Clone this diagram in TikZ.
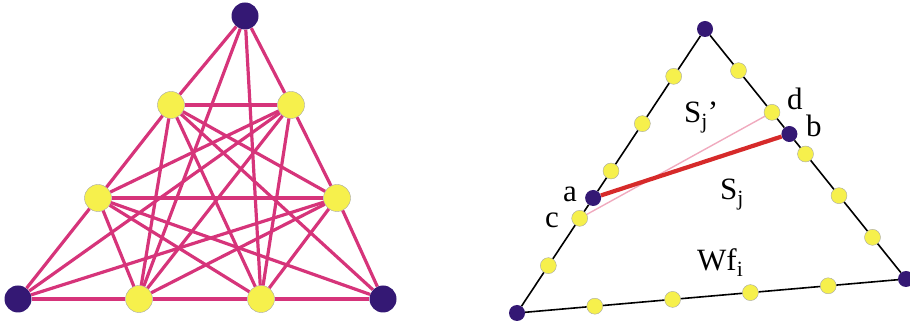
\documentclass[tikz,border=0pt]{standalone}
\usepackage{fontspec}
\setmainfont{Liberation Serif}
\usetikzlibrary{calc}
\definecolor{rosa}{RGB}{214,52,122}
\definecolor{azul}{RGB}{52,24,116}
\definecolor{amarillo}{RGB}{246,240,76}
\definecolor{rojo}{RGB}{214,42,42}
\definecolor{rosaclaro}{RGB}{240,170,190}

\begin{document}
\begin{tikzpicture}[x=1pt, y=1pt,
      vert/.style={circle, fill=azul, inner sep=0pt, minimum size=27},
      vertAm/.style={circle, fill=amarillo, draw=black!35, thin, inner sep=0pt, minimum size=27},
      arista/.style={draw=rosa, line width=3.2pt},
      punto/.style={circle, fill=azul, inner sep=0pt, minimum size=16},
      puntoAm/.style={circle, fill=amarillo, draw=black!35, thin, inner sep=0pt, minimum size=16},
      lado/.style={draw=black, line width=1.6pt},
      etiqueta/.style={font=\fontsize{31}{36}\selectfont, anchor=base west, inner sep=0pt}
    ]
    \useasboundingbox (0,0) rectangle (910,326);

    % --- (a) grafo ---
    \begin{scope}
      \node[vert] (T) at (245,310) {};
      \node[vertAm] (UL) at (171,221) {};
      \node[vertAm] (UR) at (291,221) {};
      \node[vertAm] (ML) at (98,128) {};
      \node[vertAm] (MR) at (337,128) {};
      \node[vert] (BL) at (18,27) {};
      \node[vertAm] (B1) at (139,27) {};
      \node[vertAm] (B2) at (261,27) {};
      \node[vert] (BR) at (383,27) {};
      % lados
      \draw[arista] (T) -- (UL); \draw[arista] (UL) -- (ML); \draw[arista] (ML) -- (BL);
      \draw[arista] (T) -- (UR); \draw[arista] (UR) -- (MR); \draw[arista] (MR) -- (BR);
      \draw[arista] (BL) -- (B1); \draw[arista] (B1) -- (B2); \draw[arista] (B2) -- (BR);
      % diagonales
      \draw[arista] (T) -- (B1); \draw[arista] (T) -- (B2);
      \draw[arista] (UL) -- (UR); \draw[arista] (UL) -- (MR); \draw[arista] (UL) -- (BR);
      \draw[arista] (UL) -- (B1); \draw[arista] (UL) -- (B2);
      \draw[arista] (ML) -- (UR); \draw[arista] (ML) -- (MR); \draw[arista] (ML) -- (BR);
      \draw[arista] (ML) -- (B1); \draw[arista] (ML) -- (B2);
      \draw[arista] (UR) -- (BL); \draw[arista] (UR) -- (B1); \draw[arista] (UR) -- (B2);
      \draw[arista] (MR) -- (BL); \draw[arista] (MR) -- (B1); \draw[arista] (MR) -- (B2);
    \end{scope}

    % --- (b) triangulo ---
    \begin{scope}
      \node[punto] (rt) at (705,297) {};
      \node[punto] (rbl) at (517,13) {};
      \node[punto] (rbr) at (906,47) {};
      % lado izquierdo
      \node[puntoAm] (l1) at ($(rt)!1/6!(rbl)$) {};
      \node[puntoAm] (l2) at ($(rt)!2/6!(rbl)$) {};
      \node[puntoAm] (l3) at ($(rt)!3/6!(rbl)$) {};
      \node[punto] (a) at ($(rt)!0.595!(rbl)$) {};
      \node[puntoAm] (c) at ($(rt)!4/6!(rbl)$) {};
      \node[puntoAm] (l5) at ($(rt)!5/6!(rbl)$) {};
      % lado derecho
      \node[puntoAm] (r1) at ($(rt)!1/6!(rbr)$) {};
      \node[puntoAm] (d) at ($(rt)!2/6!(rbr)$) {};
      \node[punto] (b) at ($(rt)!0.42!(rbr)$) {};
      \node[puntoAm] (r3) at ($(rt)!3/6!(rbr)$) {};
      \node[puntoAm] (r4) at ($(rt)!4/6!(rbr)$) {};
      \node[puntoAm] (r5) at ($(rt)!5/6!(rbr)$) {};
      % base
      \node[puntoAm] (u1) at ($(rbl)!1/5!(rbr)$) {};
      \node[puntoAm] (u2) at ($(rbl)!2/5!(rbr)$) {};
      \node[puntoAm] (u3) at ($(rbl)!3/5!(rbr)$) {};
      \node[puntoAm] (u4) at ($(rbl)!4/5!(rbr)$) {};
      \draw[lado] (rt) -- (l1) -- (l2) -- (l3) -- (a) -- (c) -- (l5) -- (rbl);
      \draw[lado] (rt) -- (r1) -- (d) -- (b) -- (r3) -- (r4) -- (r5) -- (rbr);
      \draw[lado] (rbl) -- (u1) -- (u2) -- (u3) -- (u4) -- (rbr);
      \draw[draw=rosaclaro, line width=1.4pt] (c) -- (d);
      \draw[draw=rojo, line width=4.2pt] (a) -- (b);
      \node[etiqueta] (ea) at (563,124) {a};
      \node[etiqueta] (ec) at (545,98) {c};
      \node[etiqueta] (ed) at (787,216) {d};
      \node[etiqueta] (eb) at (806,189) {b};
      \node[etiqueta] (sjp) at (684,203) {S\textsubscript{j}’};
      \node[etiqueta] (sj) at (720,126) {S\textsubscript{j}};
      \node[etiqueta] (wf) at (697,55) {Wf\textsubscript{i}};
    \end{scope}
  \end{tikzpicture}
\end{document}
